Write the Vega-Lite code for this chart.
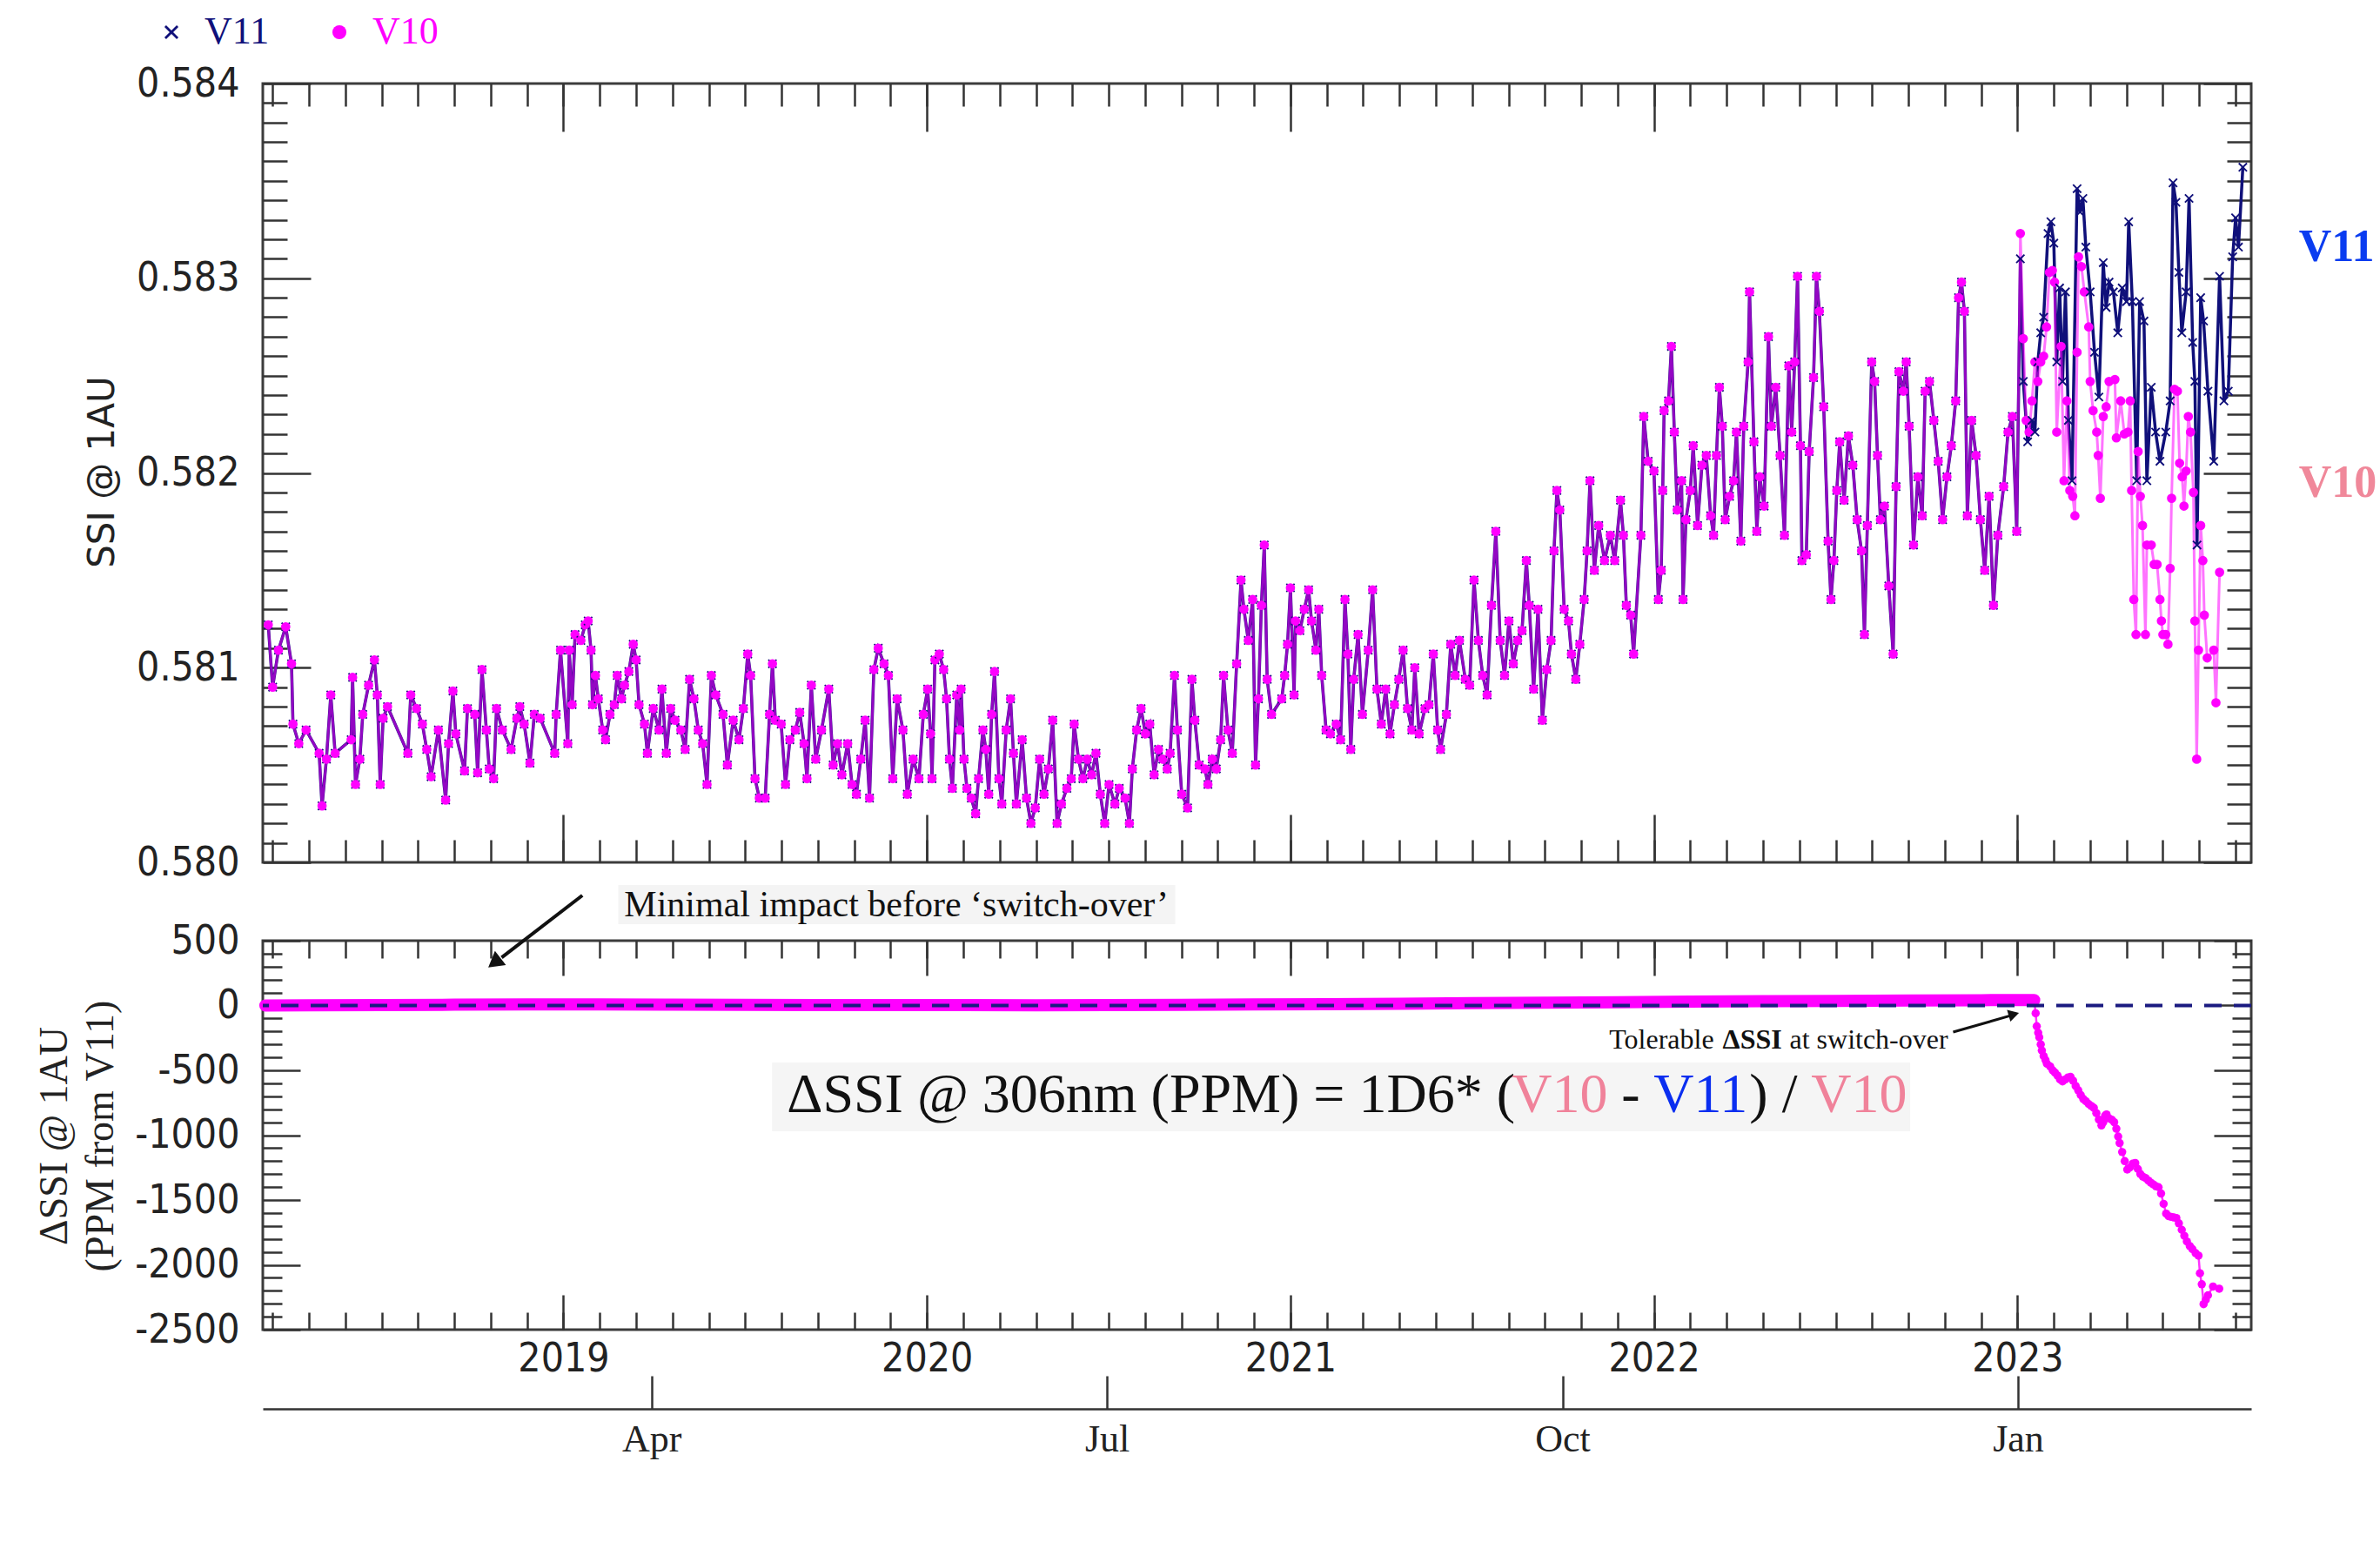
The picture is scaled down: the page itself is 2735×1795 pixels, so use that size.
{
"$schema": "https://vega.github.io/schema/vega-lite/v6.json",
"background": "white",
"padding": {"left": 37, "top": 13, "right": 0, "bottom": 10},
"spacing": 90,
"bounds": "flush",
"resolve": {"scale": {"color": "independent", "shape": "independent"}, "legend": {"color": "independent", "shape": "independent"}},
"datasets": {
"ssi": [
{"t":2018.188,"V11":0.58122,"V10":0.58122},{"t":2018.2,"V11":0.5809,"V10":0.5809},{"t":2018.216,"V11":0.58109,"V10":0.58109},{"t":2018.236,"V11":0.58121,"V10":0.58121},{"t":2018.252,"V11":0.58102,"V10":0.58102},{"t":2018.256,"V11":0.58071,"V10":0.58071},{"t":2018.272,"V11":0.58061,"V10":0.58061},{"t":2018.292,"V11":0.58068,"V10":0.58068},{"t":2018.328,"V11":0.58056,"V10":0.58056},{"t":2018.336,"V11":0.58029,"V10":0.58029},{"t":2018.348,"V11":0.58053,"V10":0.58053},{"t":2018.36,"V11":0.58086,"V10":0.58086},{"t":2018.372,"V11":0.58056,"V10":0.58056},{"t":2018.416,"V11":0.58063,"V10":0.58063},{"t":2018.42,"V11":0.58095,"V10":0.58095},{"t":2018.428,"V11":0.5804,"V10":0.5804},{"t":2018.44,"V11":0.58053,"V10":0.58053},{"t":2018.448,"V11":0.58076,"V10":0.58076},{"t":2018.464,"V11":0.58091,"V10":0.58091},{"t":2018.48,"V11":0.58104,"V10":0.58104},{"t":2018.488,"V11":0.58086,"V10":0.58086},{"t":2018.496,"V11":0.5804,"V10":0.5804},{"t":2018.504,"V11":0.58074,"V10":0.58074},{"t":2018.516,"V11":0.5808,"V10":0.5808},{"t":2018.572,"V11":0.58056,"V10":0.58056},{"t":2018.58,"V11":0.58086,"V10":0.58086},{"t":2018.596,"V11":0.58079,"V10":0.58079},{"t":2018.612,"V11":0.58071,"V10":0.58071},{"t":2018.624,"V11":0.58058,"V10":0.58058},{"t":2018.636,"V11":0.58044,"V10":0.58044},{"t":2018.656,"V11":0.58068,"V10":0.58068},{"t":2018.676,"V11":0.58032,"V10":0.58032},{"t":2018.684,"V11":0.58061,"V10":0.58061},{"t":2018.696,"V11":0.58088,"V10":0.58088},{"t":2018.704,"V11":0.58066,"V10":0.58066},{"t":2018.728,"V11":0.58047,"V10":0.58047},{"t":2018.736,"V11":0.58079,"V10":0.58079},{"t":2018.756,"V11":0.58076,"V10":0.58076},{"t":2018.764,"V11":0.58046,"V10":0.58046},{"t":2018.776,"V11":0.58099,"V10":0.58099},{"t":2018.788,"V11":0.58068,"V10":0.58068},{"t":2018.796,"V11":0.58048,"V10":0.58048},{"t":2018.808,"V11":0.58043,"V10":0.58043},{"t":2018.816,"V11":0.58079,"V10":0.58079},{"t":2018.832,"V11":0.58068,"V10":0.58068},{"t":2018.856,"V11":0.58058,"V10":0.58058},{"t":2018.872,"V11":0.58074,"V10":0.58074},{"t":2018.88,"V11":0.5808,"V10":0.5808},{"t":2018.892,"V11":0.58071,"V10":0.58071},{"t":2018.908,"V11":0.58051,"V10":0.58051},{"t":2018.92,"V11":0.58076,"V10":0.58076},{"t":2018.936,"V11":0.58074,"V10":0.58074},{"t":2018.976,"V11":0.58056,"V10":0.58056},{"t":2018.98,"V11":0.58076,"V10":0.58076},{"t":2018.992,"V11":0.58109,"V10":0.58109},
{"t":2019.012,"V11":0.58061,"V10":0.58061},{"t":2019.016,"V11":0.58109,"V10":0.58109},{"t":2019.024,"V11":0.58081,"V10":0.58081},{"t":2019.032,"V11":0.58117,"V10":0.58117},{"t":2019.048,"V11":0.58114,"V10":0.58114},{"t":2019.06,"V11":0.58122,"V10":0.58122},{"t":2019.068,"V11":0.58124,"V10":0.58124},{"t":2019.076,"V11":0.58109,"V10":0.58109},{"t":2019.08,"V11":0.58081,"V10":0.58081},{"t":2019.088,"V11":0.58096,"V10":0.58096},{"t":2019.096,"V11":0.58084,"V10":0.58084},{"t":2019.108,"V11":0.58068,"V10":0.58068},{"t":2019.116,"V11":0.58063,"V10":0.58063},{"t":2019.128,"V11":0.58076,"V10":0.58076},{"t":2019.14,"V11":0.58081,"V10":0.58081},{"t":2019.148,"V11":0.58096,"V10":0.58096},{"t":2019.16,"V11":0.58084,"V10":0.58084},{"t":2019.168,"V11":0.58091,"V10":0.58091},{"t":2019.18,"V11":0.58098,"V10":0.58098},{"t":2019.192,"V11":0.58112,"V10":0.58112},{"t":2019.2,"V11":0.58104,"V10":0.58104},{"t":2019.208,"V11":0.58081,"V10":0.58081},{"t":2019.223,"V11":0.58071,"V10":0.58071},{"t":2019.231,"V11":0.58056,"V10":0.58056},{"t":2019.247,"V11":0.58079,"V10":0.58079},{"t":2019.263,"V11":0.58068,"V10":0.58068},{"t":2019.271,"V11":0.58089,"V10":0.58089},{"t":2019.283,"V11":0.58056,"V10":0.58056},{"t":2019.295,"V11":0.58079,"V10":0.58079},{"t":2019.307,"V11":0.58073,"V10":0.58073},{"t":2019.323,"V11":0.58068,"V10":0.58068},{"t":2019.335,"V11":0.58058,"V10":0.58058},{"t":2019.347,"V11":0.58094,"V10":0.58094},{"t":2019.359,"V11":0.58084,"V10":0.58084},{"t":2019.371,"V11":0.58068,"V10":0.58068},{"t":2019.383,"V11":0.58061,"V10":0.58061},{"t":2019.395,"V11":0.5804,"V10":0.5804},{"t":2019.407,"V11":0.58096,"V10":0.58096},{"t":2019.419,"V11":0.58086,"V10":0.58086},{"t":2019.439,"V11":0.58076,"V10":0.58076},{"t":2019.451,"V11":0.5805,"V10":0.5805},{"t":2019.467,"V11":0.58073,"V10":0.58073},{"t":2019.483,"V11":0.58063,"V10":0.58063},{"t":2019.495,"V11":0.58079,"V10":0.58079},{"t":2019.507,"V11":0.58107,"V10":0.58107},{"t":2019.515,"V11":0.58096,"V10":0.58096},{"t":2019.527,"V11":0.58043,"V10":0.58043},{"t":2019.539,"V11":0.58033,"V10":0.58033},{"t":2019.555,"V11":0.58033,"V10":0.58033},{"t":2019.567,"V11":0.58076,"V10":0.58076},{"t":2019.575,"V11":0.58102,"V10":0.58102},{"t":2019.583,"V11":0.58073,"V10":0.58073},{"t":2019.599,"V11":0.58071,"V10":0.58071},{"t":2019.611,"V11":0.5804,"V10":0.5804},{"t":2019.623,"V11":0.58063,"V10":0.58063},{"t":2019.638,"V11":0.58068,"V10":0.58068},{"t":2019.65,"V11":0.58077,"V10":0.58077},{"t":2019.662,"V11":0.58061,"V10":0.58061},{"t":2019.67,"V11":0.58043,"V10":0.58043},{"t":2019.682,"V11":0.58091,"V10":0.58091},{"t":2019.694,"V11":0.58053,"V10":0.58053},{"t":2019.71,"V11":0.58068,"V10":0.58068},{"t":2019.73,"V11":0.58089,"V10":0.58089},{"t":2019.742,"V11":0.5805,"V10":0.5805},{"t":2019.754,"V11":0.58061,"V10":0.58061},{"t":2019.766,"V11":0.58045,"V10":0.58045},{"t":2019.782,"V11":0.58061,"V10":0.58061},{"t":2019.794,"V11":0.5804,"V10":0.5804},{"t":2019.806,"V11":0.58035,"V10":0.58035},{"t":2019.818,"V11":0.58053,"V10":0.58053},{"t":2019.83,"V11":0.58073,"V10":0.58073},{"t":2019.842,"V11":0.58033,"V10":0.58033},{"t":2019.854,"V11":0.58099,"V10":0.58099},{"t":2019.866,"V11":0.5811,"V10":0.5811},{"t":2019.882,"V11":0.58102,"V10":0.58102},{"t":2019.894,"V11":0.58096,"V10":0.58096},{"t":2019.906,"V11":0.58043,"V10":0.58043},{"t":2019.918,"V11":0.58084,"V10":0.58084},{"t":2019.934,"V11":0.58068,"V10":0.58068},{"t":2019.946,"V11":0.58035,"V10":0.58035},{"t":2019.962,"V11":0.58053,"V10":0.58053},{"t":2019.978,"V11":0.58043,"V10":0.58043},{"t":2019.99,"V11":0.58076,"V10":0.58076},{"t":2020.002,"V11":0.58089,"V10":0.58089},
{"t":2020.01,"V11":0.58066,"V10":0.58066},{"t":2020.014,"V11":0.58043,"V10":0.58043},{"t":2020.022,"V11":0.58104,"V10":0.58104},{"t":2020.034,"V11":0.58107,"V10":0.58107},{"t":2020.046,"V11":0.58099,"V10":0.58099},{"t":2020.054,"V11":0.58084,"V10":0.58084},{"t":2020.062,"V11":0.58053,"V10":0.58053},{"t":2020.07,"V11":0.58038,"V10":0.58038},{"t":2020.082,"V11":0.58086,"V10":0.58086},{"t":2020.09,"V11":0.58068,"V10":0.58068},{"t":2020.094,"V11":0.58089,"V10":0.58089},{"t":2020.102,"V11":0.58053,"V10":0.58053},{"t":2020.11,"V11":0.58038,"V10":0.58038},{"t":2020.122,"V11":0.58033,"V10":0.58033},{"t":2020.134,"V11":0.58025,"V10":0.58025},{"t":2020.142,"V11":0.58043,"V10":0.58043},{"t":2020.154,"V11":0.58068,"V10":0.58068},{"t":2020.162,"V11":0.58058,"V10":0.58058},{"t":2020.17,"V11":0.58035,"V10":0.58035},{"t":2020.178,"V11":0.58076,"V10":0.58076},{"t":2020.186,"V11":0.58098,"V10":0.58098},{"t":2020.198,"V11":0.58043,"V10":0.58043},{"t":2020.206,"V11":0.5803,"V10":0.5803},{"t":2020.218,"V11":0.58068,"V10":0.58068},{"t":2020.23,"V11":0.58084,"V10":0.58084},{"t":2020.238,"V11":0.58056,"V10":0.58056},{"t":2020.246,"V11":0.5803,"V10":0.5803},{"t":2020.262,"V11":0.58063,"V10":0.58063},{"t":2020.274,"V11":0.58033,"V10":0.58033},{"t":2020.286,"V11":0.5802,"V10":0.5802},{"t":2020.298,"V11":0.58028,"V10":0.58028},{"t":2020.31,"V11":0.58053,"V10":0.58053},{"t":2020.322,"V11":0.58035,"V10":0.58035},{"t":2020.334,"V11":0.58048,"V10":0.58048},{"t":2020.346,"V11":0.58073,"V10":0.58073},{"t":2020.358,"V11":0.5802,"V10":0.5802},{"t":2020.37,"V11":0.5803,"V10":0.5803},{"t":2020.385,"V11":0.58038,"V10":0.58038},{"t":2020.397,"V11":0.58043,"V10":0.58043},{"t":2020.405,"V11":0.58071,"V10":0.58071},{"t":2020.417,"V11":0.58053,"V10":0.58053},{"t":2020.429,"V11":0.58043,"V10":0.58043},{"t":2020.441,"V11":0.58053,"V10":0.58053},{"t":2020.453,"V11":0.58045,"V10":0.58045},{"t":2020.465,"V11":0.58056,"V10":0.58056},{"t":2020.477,"V11":0.58035,"V10":0.58035},{"t":2020.489,"V11":0.5802,"V10":0.5802},{"t":2020.501,"V11":0.5804,"V10":0.5804},{"t":2020.517,"V11":0.5803,"V10":0.5803},{"t":2020.529,"V11":0.58038,"V10":0.58038},{"t":2020.545,"V11":0.58033,"V10":0.58033},{"t":2020.557,"V11":0.5802,"V10":0.5802},{"t":2020.565,"V11":0.58048,"V10":0.58048},{"t":2020.577,"V11":0.58068,"V10":0.58068},{"t":2020.589,"V11":0.58079,"V10":0.58079},{"t":2020.601,"V11":0.58066,"V10":0.58066},{"t":2020.613,"V11":0.58071,"V10":0.58071},{"t":2020.625,"V11":0.58045,"V10":0.58045},{"t":2020.637,"V11":0.58058,"V10":0.58058},{"t":2020.649,"V11":0.58053,"V10":0.58053},{"t":2020.661,"V11":0.58048,"V10":0.58048},{"t":2020.669,"V11":0.58056,"V10":0.58056},{"t":2020.681,"V11":0.58096,"V10":0.58096},{"t":2020.689,"V11":0.58068,"V10":0.58068},{"t":2020.701,"V11":0.58035,"V10":0.58035},{"t":2020.717,"V11":0.58028,"V10":0.58028},{"t":2020.729,"V11":0.58094,"V10":0.58094},{"t":2020.737,"V11":0.58073,"V10":0.58073},{"t":2020.749,"V11":0.5805,"V10":0.5805},{"t":2020.765,"V11":0.58048,"V10":0.58048},{"t":2020.773,"V11":0.5804,"V10":0.5804},{"t":2020.785,"V11":0.58053,"V10":0.58053},{"t":2020.796,"V11":0.58048,"V10":0.58048},{"t":2020.808,"V11":0.58063,"V10":0.58063},{"t":2020.816,"V11":0.58096,"V10":0.58096},{"t":2020.828,"V11":0.58068,"V10":0.58068},{"t":2020.84,"V11":0.58056,"V10":0.58056},{"t":2020.852,"V11":0.58102,"V10":0.58102},{"t":2020.864,"V11":0.58145,"V10":0.58145},{"t":2020.872,"V11":0.5813,"V10":0.5813},{"t":2020.884,"V11":0.58114,"V10":0.58114},{"t":2020.896,"V11":0.58135,"V10":0.58135},{"t":2020.904,"V11":0.5805,"V10":0.5805},{"t":2020.912,"V11":0.58084,"V10":0.58084},{"t":2020.92,"V11":0.58132,"V10":0.58132},{"t":2020.928,"V11":0.58163,"V10":0.58163},{"t":2020.936,"V11":0.58094,"V10":0.58094},{"t":2020.948,"V11":0.58076,"V10":0.58076},{"t":2020.976,"V11":0.58084,"V10":0.58084},{"t":2020.984,"V11":0.58096,"V10":0.58096},{"t":2020.992,"V11":0.58112,"V10":0.58112},{"t":2021.0,"V11":0.58141,"V10":0.58141},
{"t":2021.01,"V11":0.58086,"V10":0.58086},{"t":2021.014,"V11":0.58124,"V10":0.58124},{"t":2021.026,"V11":0.58119,"V10":0.58119},{"t":2021.038,"V11":0.5813,"V10":0.5813},{"t":2021.05,"V11":0.5814,"V10":0.5814},{"t":2021.058,"V11":0.58124,"V10":0.58124},{"t":2021.07,"V11":0.58109,"V10":0.58109},{"t":2021.078,"V11":0.5813,"V10":0.5813},{"t":2021.086,"V11":0.58096,"V10":0.58096},{"t":2021.098,"V11":0.58068,"V10":0.58068},{"t":2021.11,"V11":0.58066,"V10":0.58066},{"t":2021.126,"V11":0.58071,"V10":0.58071},{"t":2021.138,"V11":0.58063,"V10":0.58063},{"t":2021.15,"V11":0.58135,"V10":0.58135},{"t":2021.158,"V11":0.58107,"V10":0.58107},{"t":2021.166,"V11":0.58058,"V10":0.58058},{"t":2021.174,"V11":0.58094,"V10":0.58094},{"t":2021.186,"V11":0.58117,"V10":0.58117},{"t":2021.198,"V11":0.58076,"V10":0.58076},{"t":2021.214,"V11":0.58109,"V10":0.58109},{"t":2021.226,"V11":0.5814,"V10":0.5814},{"t":2021.238,"V11":0.58089,"V10":0.58089},{"t":2021.25,"V11":0.58071,"V10":0.58071},{"t":2021.262,"V11":0.58089,"V10":0.58089},{"t":2021.274,"V11":0.58066,"V10":0.58066},{"t":2021.286,"V11":0.58081,"V10":0.58081},{"t":2021.298,"V11":0.58094,"V10":0.58094},{"t":2021.31,"V11":0.58109,"V10":0.58109},{"t":2021.322,"V11":0.58079,"V10":0.58079},{"t":2021.334,"V11":0.58068,"V10":0.58068},{"t":2021.342,"V11":0.581,"V10":0.581},{"t":2021.354,"V11":0.58066,"V10":0.58066},{"t":2021.37,"V11":0.58079,"V10":0.58079},{"t":2021.381,"V11":0.58081,"V10":0.58081},{"t":2021.393,"V11":0.58107,"V10":0.58107},{"t":2021.405,"V11":0.58068,"V10":0.58068},{"t":2021.413,"V11":0.58058,"V10":0.58058},{"t":2021.429,"V11":0.58076,"V10":0.58076},{"t":2021.441,"V11":0.58112,"V10":0.58112},{"t":2021.453,"V11":0.58096,"V10":0.58096},{"t":2021.465,"V11":0.58114,"V10":0.58114},{"t":2021.481,"V11":0.58094,"V10":0.58094},{"t":2021.493,"V11":0.58091,"V10":0.58091},{"t":2021.505,"V11":0.58145,"V10":0.58145},{"t":2021.517,"V11":0.58114,"V10":0.58114},{"t":2021.529,"V11":0.58096,"V10":0.58096},{"t":2021.541,"V11":0.58086,"V10":0.58086},{"t":2021.553,"V11":0.58132,"V10":0.58132},{"t":2021.565,"V11":0.5817,"V10":0.5817},{"t":2021.577,"V11":0.58114,"V10":0.58114},{"t":2021.589,"V11":0.58096,"V10":0.58096},{"t":2021.601,"V11":0.58124,"V10":0.58124},{"t":2021.613,"V11":0.58102,"V10":0.58102},{"t":2021.625,"V11":0.58114,"V10":0.58114},{"t":2021.637,"V11":0.58119,"V10":0.58119},{"t":2021.649,"V11":0.58155,"V10":0.58155},{"t":2021.657,"V11":0.58132,"V10":0.58132},{"t":2021.669,"V11":0.58089,"V10":0.58089},{"t":2021.681,"V11":0.5813,"V10":0.5813},{"t":2021.693,"V11":0.58073,"V10":0.58073},{"t":2021.705,"V11":0.58099,"V10":0.58099},{"t":2021.717,"V11":0.58114,"V10":0.58114},{"t":2021.725,"V11":0.5816,"V10":0.5816},{"t":2021.733,"V11":0.58191,"V10":0.58191},{"t":2021.741,"V11":0.58181,"V10":0.58181},{"t":2021.753,"V11":0.5813,"V10":0.5813},{"t":2021.765,"V11":0.58124,"V10":0.58124},{"t":2021.773,"V11":0.58107,"V10":0.58107},{"t":2021.785,"V11":0.58094,"V10":0.58094},{"t":2021.796,"V11":0.58112,"V10":0.58112},{"t":2021.808,"V11":0.58135,"V10":0.58135},{"t":2021.816,"V11":0.5816,"V10":0.5816},{"t":2021.824,"V11":0.58196,"V10":0.58196},{"t":2021.836,"V11":0.5815,"V10":0.5815},{"t":2021.848,"V11":0.58173,"V10":0.58173},{"t":2021.864,"V11":0.58155,"V10":0.58155},{"t":2021.88,"V11":0.58168,"V10":0.58168},{"t":2021.892,"V11":0.58155,"V10":0.58155},{"t":2021.908,"V11":0.58186,"V10":0.58186},{"t":2021.916,"V11":0.58168,"V10":0.58168},{"t":2021.924,"V11":0.58132,"V10":0.58132},{"t":2021.936,"V11":0.58127,"V10":0.58127},{"t":2021.944,"V11":0.58107,"V10":0.58107},{"t":2021.964,"V11":0.58168,"V10":0.58168},{"t":2021.972,"V11":0.58229,"V10":0.58229},{"t":2021.984,"V11":0.58206,"V10":0.58206},{"t":2022.0,"V11":0.58201,"V10":0.58201},
{"t":2022.012,"V11":0.58135,"V10":0.58135},{"t":2022.02,"V11":0.5815,"V10":0.5815},{"t":2022.024,"V11":0.58191,"V10":0.58191},{"t":2022.028,"V11":0.58232,"V10":0.58232},{"t":2022.04,"V11":0.58237,"V10":0.58237},{"t":2022.048,"V11":0.58265,"V10":0.58265},{"t":2022.056,"V11":0.58221,"V10":0.58221},{"t":2022.064,"V11":0.58181,"V10":0.58181},{"t":2022.076,"V11":0.58196,"V10":0.58196},{"t":2022.08,"V11":0.58135,"V10":0.58135},{"t":2022.088,"V11":0.58176,"V10":0.58176},{"t":2022.1,"V11":0.58191,"V10":0.58191},{"t":2022.108,"V11":0.58214,"V10":0.58214},{"t":2022.12,"V11":0.58173,"V10":0.58173},{"t":2022.132,"V11":0.58204,"V10":0.58204},{"t":2022.144,"V11":0.58209,"V10":0.58209},{"t":2022.156,"V11":0.58178,"V10":0.58178},{"t":2022.164,"V11":0.58168,"V10":0.58168},{"t":2022.172,"V11":0.58209,"V10":0.58209},{"t":2022.18,"V11":0.58244,"V10":0.58244},{"t":2022.188,"V11":0.58224,"V10":0.58224},{"t":2022.196,"V11":0.58176,"V10":0.58176},{"t":2022.208,"V11":0.58188,"V10":0.58188},{"t":2022.219,"V11":0.58196,"V10":0.58196},{"t":2022.227,"V11":0.58221,"V10":0.58221},{"t":2022.239,"V11":0.58165,"V10":0.58165},{"t":2022.247,"V11":0.58224,"V10":0.58224},{"t":2022.259,"V11":0.58257,"V10":0.58257},{"t":2022.263,"V11":0.58293,"V10":0.58293},{"t":2022.275,"V11":0.58216,"V10":0.58216},{"t":2022.283,"V11":0.5817,"V10":0.5817},{"t":2022.291,"V11":0.58198,"V10":0.58198},{"t":2022.303,"V11":0.58183,"V10":0.58183},{"t":2022.315,"V11":0.5827,"V10":0.5827},{"t":2022.323,"V11":0.58224,"V10":0.58224},{"t":2022.335,"V11":0.58244,"V10":0.58244},{"t":2022.347,"V11":0.58209,"V10":0.58209},{"t":2022.359,"V11":0.58168,"V10":0.58168},{"t":2022.371,"V11":0.58255,"V10":0.58255},{"t":2022.379,"V11":0.58221,"V10":0.58221},{"t":2022.387,"V11":0.58257,"V10":0.58257},{"t":2022.395,"V11":0.58301,"V10":0.58301},{"t":2022.403,"V11":0.58214,"V10":0.58214},{"t":2022.407,"V11":0.58155,"V10":0.58155},{"t":2022.419,"V11":0.58158,"V10":0.58158},{"t":2022.427,"V11":0.58211,"V10":0.58211},{"t":2022.439,"V11":0.58249,"V10":0.58249},{"t":2022.447,"V11":0.58301,"V10":0.58301},{"t":2022.455,"V11":0.58283,"V10":0.58283},{"t":2022.467,"V11":0.58234,"V10":0.58234},{"t":2022.479,"V11":0.58165,"V10":0.58165},{"t":2022.487,"V11":0.58135,"V10":0.58135},{"t":2022.495,"V11":0.58155,"V10":0.58155},{"t":2022.503,"V11":0.58191,"V10":0.58191},{"t":2022.511,"V11":0.58216,"V10":0.58216},{"t":2022.523,"V11":0.58186,"V10":0.58186},{"t":2022.535,"V11":0.58219,"V10":0.58219},{"t":2022.547,"V11":0.58204,"V10":0.58204},{"t":2022.559,"V11":0.58176,"V10":0.58176},{"t":2022.571,"V11":0.5816,"V10":0.5816},{"t":2022.579,"V11":0.58117,"V10":0.58117},{"t":2022.587,"V11":0.58173,"V10":0.58173},{"t":2022.599,"V11":0.58257,"V10":0.58257},{"t":2022.607,"V11":0.58247,"V10":0.58247},{"t":2022.615,"V11":0.58209,"V10":0.58209},{"t":2022.623,"V11":0.58176,"V10":0.58176},{"t":2022.634,"V11":0.58183,"V10":0.58183},{"t":2022.646,"V11":0.58142,"V10":0.58142},{"t":2022.658,"V11":0.58107,"V10":0.58107},{"t":2022.666,"V11":0.58193,"V10":0.58193},{"t":2022.674,"V11":0.58252,"V10":0.58252},{"t":2022.686,"V11":0.58242,"V10":0.58242},{"t":2022.694,"V11":0.58257,"V10":0.58257},{"t":2022.702,"V11":0.58224,"V10":0.58224},{"t":2022.714,"V11":0.58163,"V10":0.58163},{"t":2022.726,"V11":0.58198,"V10":0.58198},{"t":2022.738,"V11":0.58178,"V10":0.58178},{"t":2022.746,"V11":0.58242,"V10":0.58242},{"t":2022.758,"V11":0.58247,"V10":0.58247},{"t":2022.77,"V11":0.58227,"V10":0.58227},{"t":2022.782,"V11":0.58206,"V10":0.58206},{"t":2022.794,"V11":0.58176,"V10":0.58176},{"t":2022.806,"V11":0.58198,"V10":0.58198},{"t":2022.818,"V11":0.58214,"V10":0.58214},{"t":2022.83,"V11":0.58237,"V10":0.58237},{"t":2022.838,"V11":0.5829,"V10":0.5829},{"t":2022.846,"V11":0.58298,"V10":0.58298},{"t":2022.854,"V11":0.58283,"V10":0.58283},{"t":2022.862,"V11":0.58178,"V10":0.58178},{"t":2022.874,"V11":0.58227,"V10":0.58227},{"t":2022.886,"V11":0.58209,"V10":0.58209},{"t":2022.898,"V11":0.58176,"V10":0.58176},{"t":2022.91,"V11":0.5815,"V10":0.5815},{"t":2022.922,"V11":0.58188,"V10":0.58188},{"t":2022.934,"V11":0.58132,"V10":0.58132},{"t":2022.946,"V11":0.58168,"V10":0.58168},{"t":2022.962,"V11":0.58193,"V10":0.58193},{"t":2022.974,"V11":0.58221,"V10":0.58221},{"t":2022.986,"V11":0.58229,"V10":0.58229},{"t":2022.998,"V11":0.5817,"V10":0.5817},
{"t":2023.008,"V11":0.5831,"V10":0.58323},
{"t":2023.016,"V11":0.58247,"V10":0.58269},{"t":2023.024,"V10":0.58227},{"t":2023.028,"V11":0.58216},{"t":2023.032,"V10":0.58221},{"t":2023.04,"V11":0.58227,"V10":0.58237},{"t":2023.048,"V11":0.58221,"V10":0.58257},{"t":2023.056,"V11":0.58257,"V10":0.58247},{"t":2023.064,"V11":0.58272,"V10":0.58257},{"t":2023.072,"V11":0.5828,"V10":0.5826},{"t":2023.08,"V10":0.58275},{"t":2023.084,"V11":0.58323},{"t":2023.088,"V10":0.58303},{"t":2023.092,"V11":0.58329},{"t":2023.096,"V10":0.58304},{"t":2023.1,"V11":0.58318},{"t":2023.102,"V10":0.58298},{"t":2023.108,"V11":0.58257,"V10":0.58221},{"t":2023.116,"V11":0.58295},{"t":2023.12,"V10":0.58265},{"t":2023.124,"V11":0.58247},{"t":2023.128,"V10":0.58196},{"t":2023.132,"V11":0.58293},{"t":2023.136,"V10":0.58237},{"t":2023.14,"V11":0.58227},{"t":2023.144,"V10":0.58191},{"t":2023.15,"V11":0.58196},{"t":2023.152,"V10":0.58188},{"t":2023.158,"V10":0.58178},{"t":2023.164,"V11":0.58346,"V10":0.58262},{"t":2023.168,"V10":0.58311},{"t":2023.172,"V11":0.58334},{"t":2023.176,"V10":0.58306},{"t":2023.18,"V11":0.58341},{"t":2023.184,"V10":0.58293},{"t":2023.188,"V11":0.58316},{"t":2023.196,"V10":0.58275},{"t":2023.2,"V11":0.58293,"V10":0.58247},{"t":2023.208,"V10":0.58232},{"t":2023.212,"V11":0.58262},{"t":2023.218,"V10":0.58221},{"t":2023.222,"V10":0.58209},{"t":2023.224,"V11":0.58239},{"t":2023.228,"V10":0.58187},{"t":2023.236,"V11":0.58308,"V10":0.58229},{"t":2023.244,"V11":0.58285,"V10":0.58234},{"t":2023.252,"V11":0.58298,"V10":0.58247},{"t":2023.264,"V11":0.58293},{"t":2023.268,"V10":0.58248},{"t":2023.272,"V10":0.58218},{"t":2023.276,"V11":0.58272},{"t":2023.284,"V10":0.58237},{"t":2023.288,"V11":0.58295},{"t":2023.294,"V10":0.5822},{"t":2023.3,"V11":0.58288},{"t":2023.304,"V10":0.58221},{"t":2023.306,"V11":0.58329},{"t":2023.31,"V10":0.58237},{"t":2023.314,"V10":0.58191},{"t":2023.316,"V11":0.58288},{"t":2023.32,"V10":0.58135},{"t":2023.326,"V10":0.58117},{"t":2023.328,"V11":0.58196},{"t":2023.332,"V10":0.58211},{"t":2023.336,"V11":0.58288},{"t":2023.338,"V10":0.58188},{"t":2023.344,"V10":0.58173},{"t":2023.348,"V11":0.58278},{"t":2023.352,"V10":0.58117},{"t":2023.356,"V11":0.58196,"V10":0.58163},{"t":2023.368,"V11":0.58244,"V10":0.58163},{"t":2023.376,"V10":0.58153},{"t":2023.38,"V11":0.58221},{"t":2023.384,"V10":0.58153},{"t":2023.392,"V11":0.58206,"V10":0.58135},{"t":2023.396,"V10":0.58124},{"t":2023.4,"V10":0.58117},{"t":2023.408,"V11":0.58221,"V10":0.58117},{"t":2023.414,"V10":0.58112},{"t":2023.42,"V11":0.58237,"V10":0.58151},{"t":2023.424,"V10":0.58187},{"t":2023.428,"V11":0.58349},{"t":2023.432,"V10":0.58243},{"t":2023.436,"V11":0.58339},{"t":2023.44,"V10":0.58242},{"t":2023.444,"V11":0.58303},{"t":2023.446,"V10":0.58205},{"t":2023.452,"V11":0.58272},{"t":2023.453,"V10":0.58198},{"t":2023.458,"V10":0.58183},{"t":2023.464,"V11":0.58293,"V10":0.58201},{"t":2023.47,"V10":0.58229},{"t":2023.472,"V11":0.58341},{"t":2023.476,"V10":0.58221},{"t":2023.482,"V11":0.58267},{"t":2023.484,"V10":0.5819},{"t":2023.488,"V11":0.58247,"V10":0.58124},{"t":2023.493,"V10":0.58053},{"t":2023.494,"V11":0.58163},{"t":2023.498,"V10":0.58109},{"t":2023.504,"V11":0.5829,"V10":0.58173},{"t":2023.51,"V10":0.58155},{"t":2023.512,"V11":0.58278},{"t":2023.514,"V10":0.58127},{"t":2023.522,"V10":0.58105},{"t":2023.524,"V11":0.58242},{"t":2023.54,"V11":0.58206,"V10":0.58109},{"t":2023.546,"V10":0.58082},{"t":2023.556,"V11":0.58301,"V10":0.58149},{"t":2023.568,"V11":0.58237},{"t":2023.58,"V11":0.58242},{"t":2023.592,"V11":0.58311},{"t":2023.6,"V11":0.58331},{"t":2023.608,"V11":0.58316},{"t":2023.62,"V11":0.58357}
],
"dssi_pre": [
{"t":2018.18,"d":0},{"t":2018.3,"d":2},{"t":2018.5,"d":3},{"t":2018.7,"d":6},{"t":2018.9,"d":9},{"t":2019.1,"d":8},{"t":2019.3,"d":6},{"t":2019.5,"d":5},{"t":2019.7,"d":4},{"t":2019.9,"d":3},{"t":2020.1,"d":3},{"t":2020.3,"d":2},{"t":2020.5,"d":3},{"t":2020.7,"d":5},{"t":2020.9,"d":8},{"t":2021.1,"d":10},{"t":2021.3,"d":14},{"t":2021.5,"d":18},{"t":2021.7,"d":22},{"t":2021.9,"d":26},{"t":2022.1,"d":30},{"t":2022.3,"d":33},{"t":2022.5,"d":36},{"t":2022.7,"d":39},{"t":2022.9,"d":41},{"t":2023.0,"d":42},{"t":2023.046,"d":42}
],
"dssi_post": [
{"t":2023.046,"d":42},{"t":2023.05,"d":-60},{"t":2023.053,"d":-160},{"t":2023.057,"d":-210},{"t":2023.06,"d":-245},{"t":2023.064,"d":-300},{"t":2023.067,"d":-347},{"t":2023.072,"d":-390},{"t":2023.077,"d":-420},{"t":2023.081,"d":-449},{"t":2023.09,"d":-470},{"t":2023.097,"d":-500},{"t":2023.103,"d":-517},{"t":2023.11,"d":-540},{"t":2023.117,"d":-570},{"t":2023.124,"d":-585},{"t":2023.132,"d":-570},{"t":2023.139,"d":-555},{"t":2023.146,"d":-551},{"t":2023.153,"d":-580},{"t":2023.16,"d":-620},{"t":2023.167,"d":-653},{"t":2023.174,"d":-690},{"t":2023.181,"d":-720},{"t":2023.188,"d":-738},{"t":2023.196,"d":-760},{"t":2023.203,"d":-775},{"t":2023.21,"d":-789},{"t":2023.217,"d":-830},{"t":2023.224,"d":-880},{"t":2023.231,"d":-925},{"t":2023.236,"d":-900},{"t":2023.241,"d":-850},{"t":2023.245,"d":-840},{"t":2023.252,"d":-870},{"t":2023.259,"d":-880},{"t":2023.266,"d":-900},{"t":2023.272,"d":-950},{"t":2023.277,"d":-1010},{"t":2023.281,"d":-1061},{"t":2023.288,"d":-1130},{"t":2023.295,"d":-1200},{"t":2023.302,"d":-1265},{"t":2023.309,"d":-1250},{"t":2023.317,"d":-1220},{"t":2023.324,"d":-1214},{"t":2023.331,"d":-1260},{"t":2023.338,"d":-1299},{"t":2023.345,"d":-1320},{"t":2023.352,"d":-1330},{"t":2023.36,"d":-1350},{"t":2023.367,"d":-1367},{"t":2023.374,"d":-1380},{"t":2023.381,"d":-1395},{"t":2023.388,"d":-1401},{"t":2023.395,"d":-1450},{"t":2023.402,"d":-1530},{"t":2023.409,"d":-1605},{"t":2023.416,"d":-1625},{"t":2023.423,"d":-1630},{"t":2023.43,"d":-1635},{"t":2023.437,"d":-1639},{"t":2023.444,"d":-1680},{"t":2023.452,"d":-1730},{"t":2023.459,"d":-1776},{"t":2023.466,"d":-1820},{"t":2023.474,"d":-1855},{"t":2023.481,"d":-1878},{"t":2023.49,"d":-1910},{"t":2023.498,"d":-1929},{"t":2023.502,"d":-2065},{"t":2023.507,"d":-2150},{"t":2023.512,"d":-2303},{"t":2023.518,"d":-2270},{"t":2023.524,"d":-2235},{"t":2023.538,"d":-2167},{"t":2023.555,"d":-2184}
],
"months": [{"q":2022.25,"m":"Apr"},{"q":2022.5,"m":"Jul"},{"q":2022.75,"m":"Oct"},{"q":2023.0,"m":"Jan"}]
},
"vconcat": [
{
"width": 2285, "height": 895,
"view": {"stroke": "#3c3c3c", "strokeWidth": 3},
"data": {"name": "ssi"},
"resolve": {"axis": {"x": "independent", "y": "independent"}},
"layer": [
{
"transform": [{"fold": ["V11","V10"], "as": ["series","ssi"]}, {"filter": "datum.series == 'V11' && isValid(datum.ssi)"}],
"mark": {"type": "line", "color": "#10107a", "strokeWidth": 3.5},
"encoding": {
"x": {"field": "t", "type": "quantitative", "scale": {"domain": [2018.173, 2023.643], "nice": false, "zero": false},
"axis": {"orient": "bottom", "values": [2019,2020,2021,2022,2023], "labels": false, "tickSize": -55, "tickColor": "#333", "tickWidth": 2.5, "domain": false, "grid": false, "title": null}},
"y": {"field": "ssi", "type": "quantitative", "scale": {"domain": [0.58, 0.584], "nice": false, "zero": false},
"axis": {"orient": "left", "values": [0.58,0.581,0.582,0.583,0.584], "format": ".3f", "tickSize": -55, "labelPadding": 82, "tickColor": "#333", "tickWidth": 2.5, "domain": false, "grid": false,
"labelFont": "DejaVu Sans Condensed, Liberation Sans Narrow, DejaVu Sans", "labelFontSize": 46, "labelColor": "#222",
"title": "SSI @ 1AU", "titleFont": "DejaVu Sans", "titleFontSize": 42, "titleFontWeight": "normal", "titleColor": "#222", "titleAngle": 270, "titleX": -185, "titleY": 446, "titleAlign": "center", "titleBaseline": "middle"}}
}
},
{
"transform": [{"fold": ["V11","V10"], "as": ["series","ssi"]}, {"filter": "datum.series == 'V10' && isValid(datum.ssi)"}],
"mark": {"type": "line", "color": "#ff00ff", "strokeWidth": 3, "opacity": 0.55},
"encoding": {
"x": {"field": "t", "type": "quantitative", "scale": {"domain": [2018.173, 2023.643], "nice": false, "zero": false},
"axis": {"orient": "top", "values": [2019,2020,2021,2022,2023], "labels": false, "tickSize": -55, "tickColor": "#333", "tickWidth": 2.5, "domain": false, "grid": false, "title": null}},
"y": {"field": "ssi", "type": "quantitative", "scale": {"domain": [0.58, 0.584], "nice": false, "zero": false},
"axis": {"orient": "right", "values": [0.58,0.581,0.582,0.583,0.584], "labels": false, "tickSize": -55, "tickColor": "#333", "tickWidth": 2.5, "domain": false, "grid": false, "title": null}}
}
},
{
"transform": [{"fold": ["V11","V10"], "as": ["series","ssi"]}, {"filter": "isValid(datum.ssi)"}],
"mark": {"type": "point", "filled": true, "size": 115, "opacity": 1},
"encoding": {
"x": {"field": "t", "type": "quantitative", "scale": {"domain": [2018.173, 2023.643], "nice": false, "zero": false},
"axis": {"orient": "bottom", "values": [2018.2,2018.3,2018.4,2018.5,2018.6,2018.7,2018.8,2018.9,2019,2019.1,2019.2,2019.3,2019.4,2019.5,2019.6,2019.7,2019.8,2019.9,2020,2020.1,2020.2,2020.3,2020.4,2020.5,2020.6,2020.7,2020.8,2020.9,2021,2021.1,2021.2,2021.3,2021.4,2021.5,2021.6,2021.7,2021.8,2021.9,2022,2022.1,2022.2,2022.3,2022.4,2022.5,2022.6,2022.7,2022.8,2022.9,2023,2023.1,2023.2,2023.3,2023.4,2023.5,2023.6], "labels": false, "tickSize": -26, "tickColor": "#333", "tickWidth": 2.5, "domain": false, "grid": false, "title": null}},
"y": {"field": "ssi", "type": "quantitative", "scale": {"domain": [0.58, 0.584], "nice": false, "zero": false},
"axis": {"orient": "left", "values": [0.5801,0.5802,0.5803,0.5804,0.5805,0.5806,0.5807,0.5808,0.5809,0.5811,0.5812,0.5813,0.5814,0.5815,0.5816,0.5817,0.5818,0.5819,0.5821,0.5822,0.5823,0.5824,0.5825,0.5826,0.5827,0.5828,0.5829,0.5831,0.5832,0.5833,0.5834,0.5835,0.5836,0.5837,0.5838,0.5839], "labels": false, "tickSize": -28, "tickColor": "#333", "tickWidth": 2.5, "domain": false, "grid": false, "title": null}},
"color": {"field": "series", "type": "nominal", "scale": {"domain": ["V11","V10"], "range": ["#10107a","#ff00ff"]},
"legend": {"orient": "none", "legendX": -127, "legendY": -81, "direction": "horizontal", "title": null, "padding": 0, "symbolSize": 260, "labelFont": "Liberation Serif", "labelFontSize": 44, "labelColor": {"expr": "datum.label == 'V11' ? '#10107a' : '#ff00ff'"}, "labelOffset": 16, "columnPadding": 58, "symbolStrokeWidth": 0}},
"shape": {"field": "series", "type": "nominal", "scale": {"domain": ["V11","V10"], "range": ["M-1,-0.75L-0.75,-1L0,-0.25L0.75,-1L1,-0.75L0.25,0L1,0.75L0.75,1L0,0.25L-0.75,1L-1,0.75L-0.25,0Z","circle"]},
"legend": {"orient": "none", "legendX": -127, "legendY": -81, "direction": "horizontal", "title": null, "padding": 0, "symbolSize": 260, "labelFont": "Liberation Serif", "labelFontSize": 44, "labelColor": {"expr": "datum.label == 'V11' ? '#10107a' : '#ff00ff'"}, "labelOffset": 16, "columnPadding": 58, "symbolStrokeWidth": 0}}
}
},
{
"data": {"values": [{"label": "V11"}]},
"mark": {"type": "text", "font": "Liberation Serif", "fontSize": 52, "fontWeight": "bold", "color": "#0a3cf0", "align": "left", "baseline": "middle"},
"encoding": {
"text": {"field": "label"},
"x": {"datum": 2023.774, "type": "quantitative", "scale": {"domain": [2018.173, 2023.643], "nice": false, "zero": false},
"axis": {"orient": "top", "values": [2018.2,2018.3,2018.4,2018.5,2018.6,2018.7,2018.8,2018.9,2019,2019.1,2019.2,2019.3,2019.4,2019.5,2019.6,2019.7,2019.8,2019.9,2020,2020.1,2020.2,2020.3,2020.4,2020.5,2020.6,2020.7,2020.8,2020.9,2021,2021.1,2021.2,2021.3,2021.4,2021.5,2021.6,2021.7,2021.8,2021.9,2022,2022.1,2022.2,2022.3,2022.4,2022.5,2022.6,2022.7,2022.8,2022.9,2023,2023.1,2023.2,2023.3,2023.4,2023.5,2023.6], "labels": false, "tickSize": -26, "tickColor": "#333", "tickWidth": 2.5, "domain": false, "grid": false, "title": null}},
"y": {"datum": 0.58316, "type": "quantitative", "scale": {"domain": [0.58, 0.584], "nice": false, "zero": false},
"axis": {"orient": "right", "values": [0.5801,0.5802,0.5803,0.5804,0.5805,0.5806,0.5807,0.5808,0.5809,0.5811,0.5812,0.5813,0.5814,0.5815,0.5816,0.5817,0.5818,0.5819,0.5821,0.5822,0.5823,0.5824,0.5825,0.5826,0.5827,0.5828,0.5829,0.5831,0.5832,0.5833,0.5834,0.5835,0.5836,0.5837,0.5838,0.5839], "labels": false, "tickSize": -28, "tickColor": "#333", "tickWidth": 2.5, "domain": false, "grid": false, "title": null}}
}
},
{
"data": {"values": [{"label": "V10"}]},
"mark": {"type": "text", "font": "Liberation Serif", "fontSize": 52, "fontWeight": "bold", "color": "#f0889a", "align": "left", "baseline": "middle"},
"encoding": {
"text": {"field": "label"},
"x": {"datum": 2023.774, "type": "quantitative", "axis": null},
"y": {"datum": 0.58195, "type": "quantitative", "axis": null}
}
}
]
},
{
"width": 2285, "height": 447,
"view": {"stroke": "#3c3c3c", "strokeWidth": 3},
"resolve": {"axis": {"x": "independent", "y": "independent"}},
"layer": [
{
"data": {"values": [{}]},
"mark": {"type": "rect", "color": "#f4f4f4"},
"encoding": {
"x": {"datum": 2019.151, "type": "quantitative", "scale": {"domain": [2018.173, 2023.643], "nice": false, "zero": false},
"axis": {"orient": "top", "values": [2019,2020,2021,2022,2023], "labels": false, "tickSize": -40, "tickColor": "#333", "tickWidth": 2.5, "domain": false, "grid": false, "title": null}},
"x2": {"datum": 2020.683},
"y": {"datum": 929.5, "type": "quantitative", "scale": {"domain": [-2500, 500], "nice": false, "zero": false},
"axis": {"orient": "right", "values": [-2400,-2300,-2200,-2100,-1900,-1800,-1700,-1600,-1400,-1300,-1200,-1100,-900,-800,-700,-600,-400,-300,-200,-100,100,200,300,400], "labels": false, "tickSize": -22, "tickColor": "#333", "tickWidth": 2.5, "domain": false, "grid": false, "title": null}},
"y2": {"datum": 627.5}
}
},
{
"data": {"values": [{}]},
"mark": {"type": "rect", "color": "#f5f5f5"},
"encoding": {
"x": {"datum": 2019.574, "type": "quantitative",
"axis": {"orient": "top", "values": [2018.2,2018.3,2018.4,2018.5,2018.6,2018.7,2018.8,2018.9,2019,2019.1,2019.2,2019.3,2019.4,2019.5,2019.6,2019.7,2019.8,2019.9,2020,2020.1,2020.2,2020.3,2020.4,2020.5,2020.6,2020.7,2020.8,2020.9,2021,2021.1,2021.2,2021.3,2021.4,2021.5,2021.6,2021.7,2021.8,2021.9,2022,2022.1,2022.2,2022.3,2022.4,2022.5,2022.6,2022.7,2022.8,2022.9,2023,2023.1,2023.2,2023.3,2023.4,2023.5,2023.6], "labels": false, "tickSize": -20, "tickColor": "#333", "tickWidth": 2.5, "domain": false, "grid": false, "title": null}},
"x2": {"datum": 2022.705},
"y": {"datum": -439.5, "type": "quantitative", "axis": null},
"y2": {"datum": -969.7}
}
},
{
"data": {"name": "dssi_pre"},
"mark": {"type": "line", "color": "#ff00ff", "strokeWidth": 14, "strokeCap": "round"},
"encoding": {
"x": {"field": "t", "type": "quantitative",
"axis": {"orient": "bottom", "values": [2019,2020,2021,2022,2023], "labelExpr": "'' + datum.value", "tickSize": -40, "labelPadding": 51, "tickColor": "#333", "tickWidth": 2.5, "domain": false, "grid": false, "labelFont": "DejaVu Sans Condensed, Liberation Sans Narrow, DejaVu Sans", "labelFontSize": 46, "labelColor": "#222", "title": null}},
"y": {"field": "d", "type": "quantitative",
"axis": {"orient": "left", "values": [-2500,-2000,-1500,-1000,-500,0,500], "labelExpr": "'' + datum.value", "tickSize": -43, "labelPadding": 70, "tickColor": "#333", "tickWidth": 2.5, "domain": false, "grid": false, "labelFont": "DejaVu Sans Condensed, Liberation Sans Narrow, DejaVu Sans", "labelFontSize": 46, "labelColor": "#222",
"title": ["ΔSSI @ 1AU", "(PPM from V11)"], "titleFont": "Liberation Serif", "titleFontSize": 46, "titleFontWeight": "normal", "titleColor": "#222", "titleLineHeight": 53, "titleAngle": 270, "titleX": -240, "titleY": 224, "titleAlign": "center", "titleBaseline": "middle"}}
}
},
{
"data": {"name": "dssi_post"},
"mark": {"type": "line", "color": "#ff33ff", "strokeWidth": 2.5, "point": {"filled": true, "size": 90, "color": "#ff00ff", "opacity": 1}},
"encoding": {
"x": {"field": "t", "type": "quantitative",
"axis": {"orient": "bottom", "values": [2018.2,2018.3,2018.4,2018.5,2018.6,2018.7,2018.8,2018.9,2019,2019.1,2019.2,2019.3,2019.4,2019.5,2019.6,2019.7,2019.8,2019.9,2020,2020.1,2020.2,2020.3,2020.4,2020.5,2020.6,2020.7,2020.8,2020.9,2021,2021.1,2021.2,2021.3,2021.4,2021.5,2021.6,2021.7,2021.8,2021.9,2022,2022.1,2022.2,2022.3,2022.4,2022.5,2022.6,2022.7,2022.8,2022.9,2023,2023.1,2023.2,2023.3,2023.4,2023.5,2023.6], "labels": false, "tickSize": -20, "tickColor": "#333", "tickWidth": 2.5, "domain": false, "grid": false, "title": null}},
"y": {"field": "d", "type": "quantitative",
"axis": {"orient": "left", "values": [-2400,-2300,-2200,-2100,-1900,-1800,-1700,-1600,-1400,-1300,-1200,-1100,-900,-800,-700,-600,-400,-300,-200,-100,100,200,300,400], "labels": false, "tickSize": -22, "tickColor": "#333", "tickWidth": 2.5, "domain": false, "grid": false, "title": null}}
}
},
{
"data": {"values": [{}]},
"mark": {"type": "rule", "color": "#1a1a80", "strokeWidth": 4, "strokeDash": [20, 14]},
"encoding": {
"y": {"datum": 0, "type": "quantitative",
"axis": {"orient": "right", "values": [-2500,-2000,-1500,-1000,-500,0,500], "labels": false, "tickSize": -43, "tickColor": "#333", "tickWidth": 2.5, "domain": false, "grid": false, "title": null}}
}
},
{
"data": {"values": [{}]},
"mark": {"type": "text", "text": "Minimal impact before ‘switch-over’", "font": "Liberation Serif", "fontSize": 42, "color": "#111", "align": "center", "baseline": "middle"},
"encoding": {"x": {"datum": 2019.916, "type": "quantitative", "axis": null}, "y": {"datum": 775, "type": "quantitative", "axis": null}}
},
{
"data": {"values": [{}]},
"mark": {"type": "rule", "color": "#111", "strokeWidth": 4},
"encoding": {"x": {"datum": 2019.052, "type": "quantitative", "axis": null}, "x2": {"datum": 2018.83}, "y": {"datum": 849, "type": "quantitative", "axis": null}, "y2": {"datum": 370}}
},
{
"data": {"values": [{}]},
"mark": {"type": "point", "shape": "triangle-up", "filled": true, "color": "#111", "opacity": 1, "size": 420, "angle": 232},
"encoding": {"x": {"datum": 2018.81, "type": "quantitative", "axis": null}, "y": {"datum": 330, "type": "quantitative", "axis": null}}
},
{
"data": {"values": [{}]},
"mark": {"type": "rule", "color": "#111", "strokeWidth": 3},
"encoding": {"x": {"datum": 2022.823, "type": "quantitative", "axis": null}, "x2": {"datum": 2022.985}, "y": {"datum": -204.7, "type": "quantitative", "axis": null}, "y2": {"datum": -75}}
},
{
"data": {"values": [{}]},
"mark": {"type": "point", "shape": "triangle-up", "filled": true, "color": "#111", "opacity": 1, "size": 200, "angle": 74},
"encoding": {"x": {"datum": 2022.99, "type": "quantitative", "axis": null}, "y": {"datum": -68, "type": "quantitative", "axis": null}}
},
{
"data": {"values": [{}]},
"mark": {"type": "text", "text": "Tolerable", "font": "Liberation Serif", "fontSize": 32, "color": "#111", "align": "left", "baseline": "middle"},
"encoding": {"x": {"datum": 2021.877, "type": "quantitative", "axis": null}, "y": {"datum": -265, "type": "quantitative", "axis": null}}
},
{
"data": {"values": [{}]},
"mark": {"type": "text", "text": "ΔSSI", "font": "Liberation Serif", "fontSize": 32, "fontWeight": "bold", "color": "#111", "align": "left", "baseline": "middle"},
"encoding": {"x": {"datum": 2022.189, "type": "quantitative", "axis": null}, "y": {"datum": -265, "type": "quantitative", "axis": null}}
},
{
"data": {"values": [{}]},
"mark": {"type": "text", "text": "at switch-over", "font": "Liberation Serif", "fontSize": 32, "color": "#111", "align": "left", "baseline": "middle"},
"encoding": {"x": {"datum": 2022.373, "type": "quantitative", "axis": null}, "y": {"datum": -265, "type": "quantitative", "axis": null}}
},
{
"data": {"values": [{}]},
"mark": {"type": "text", "text": "ΔSSI @ 306nm (PPM) = 1D6* (", "font": "Liberation Serif", "fontSize": 64, "color": "#111", "align": "left", "baseline": "middle"},
"encoding": {"x": {"datum": 2019.6147, "type": "quantitative", "axis": null}, "y": {"datum": -694.6, "type": "quantitative", "axis": null}}
},
{
"data": {"values": [{}]},
"mark": {"type": "text", "text": "V10", "font": "Liberation Serif", "fontSize": 64, "color": "#f0829a", "align": "left", "baseline": "middle"},
"encoding": {"x": {"datum": 2021.6087, "type": "quantitative", "axis": null}, "y": {"datum": -694.6, "type": "quantitative", "axis": null}}
},
{
"data": {"values": [{}]},
"mark": {"type": "text", "text": "-", "font": "Liberation Serif", "fontSize": 64, "color": "#111", "align": "left", "baseline": "middle"},
"encoding": {"x": {"datum": 2021.9102, "type": "quantitative", "axis": null}, "y": {"datum": -694.6, "type": "quantitative", "axis": null}}
},
{
"data": {"values": [{}]},
"mark": {"type": "text", "text": "V11", "font": "Liberation Serif", "fontSize": 64, "color": "#0a2ef0", "align": "left", "baseline": "middle"},
"encoding": {"x": {"datum": 2021.9993, "type": "quantitative", "axis": null}, "y": {"datum": -694.6, "type": "quantitative", "axis": null}}
},
{
"data": {"values": [{}]},
"mark": {"type": "text", "text": ") /", "font": "Liberation Serif", "fontSize": 64, "color": "#111", "align": "left", "baseline": "middle"},
"encoding": {"x": {"datum": 2022.2626, "type": "quantitative", "axis": null}, "y": {"datum": -694.6, "type": "quantitative", "axis": null}}
},
{
"data": {"values": [{}]},
"mark": {"type": "text", "text": "V10", "font": "Liberation Serif", "fontSize": 64, "color": "#f0829a", "align": "left", "baseline": "middle"},
"encoding": {"x": {"datum": 2022.4324, "type": "quantitative", "axis": null}, "y": {"datum": -694.6, "type": "quantitative", "axis": null}}
}
]
},
{
"width": 2285, "height": 1,
"view": {"stroke": null},
"data": {"name": "months"},
"mark": {"type": "point", "opacity": 0},
"encoding": {
"x": {"field": "q", "type": "quantitative", "scale": {"domain": [2022.0367, 2023.128], "nice": false, "zero": false},
"axis": {"orient": "bottom", "values": [2022.25, 2022.5, 2022.75, 2023], "labelExpr": "datum.value < 2022.3 ? 'Apr' : datum.value < 2022.6 ? 'Jul' : datum.value < 2022.8 ? 'Oct' : 'Jan'", "tickSize": -38, "labelPadding": 51, "tickColor": "#333", "tickWidth": 2.5, "domain": true, "domainColor": "#333", "domainWidth": 2.5, "grid": false, "labelFont": "Liberation Serif", "labelFontSize": 44, "labelColor": "#222", "title": null}}
}
}
]
}
